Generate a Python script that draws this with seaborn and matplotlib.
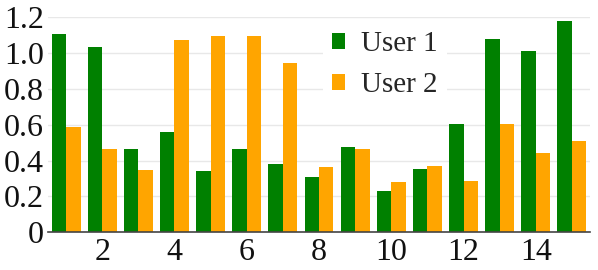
import pandas as pd
import seaborn as sns
from matplotlib import pyplot as plt

# values
groups = list(range(1, 16))
user1 = [1.106, 1.035, 0.467, 0.559, 0.344, 0.462, 0.383, 0.305, 0.478, 0.228, 0.355, 0.607, 1.078, 1.014, 1.179]
user2 = [0.587, 0.467, 0.346, 1.072, 1.095, 1.098, 0.945, 0.366, 0.462, 0.280, 0.372, 0.288, 0.602, 0.443, 0.507]
series = ['User 1', 'User 2']
x_ticks = [2, 4, 6, 8, 10, 12, 14]
y_ticks = [0, 0.2, 0.4, 0.6, 0.8, 1.0, 1.2]
y_labels = ['0', '0.2', '0.4', '0.6', '0.8', '1.0', '1.2']

df = pd.DataFrame({
    'group': groups * 2,
    'value': user1 + user2,
    'user': [series[0]] * len(groups) + [series[1]] * len(groups),
})

sns.set_style('white')
plt.rcParams['font.family'] = ['Liberation Serif', 'DejaVu Serif']

fig = plt.figure(figsize=(5.98, 2.7), dpi=100)
ax = fig.add_axes([0.0803, 0.1407, 0.9063, 0.7945])

sns.barplot(data=df, x='group', y='value', hue='user', native_scale=True,
            palette=['#008000', '#ffa500'], width=0.8, linewidth=0, saturation=1,
            ax=ax)

ax.set_xlim(0.5, 15.5)
ax.set_ylim(0, 1.2)
ax.set_xticks(x_ticks)
ax.set_xticklabels([str(t) for t in x_ticks], fontsize=23)
ax.set_yticks(y_ticks)
ax.set_yticklabels(y_labels, fontsize=23)
ax.tick_params(axis='x', length=0, pad=4, colors='#111111')
ax.tick_params(axis='y', length=0, pad=3, colors='#111111')
ax.set_xlabel('')
ax.set_ylabel('')

ax.yaxis.grid(True, color='#e8e8e8', linewidth=1)
ax.set_axisbelow(True)
for side in ['left', 'right', 'top']:
    ax.spines[side].set_visible(False)
ax.spines['bottom'].set_color('#444444')
ax.spines['bottom'].set_linewidth(1.2)

leg = ax.legend(loc='upper left', bbox_to_anchor=(0.481, 1.045), fontsize=21,
                frameon=True, framealpha=1, edgecolor='none', facecolor='white',
                handlelength=0.45, handleheight=0.45, handletextpad=0.55,
                labelspacing=0.52, borderpad=0.3, fancybox=False)
leg.get_frame().set_linewidth(0)

fig.savefig('out.png', dpi=100)
